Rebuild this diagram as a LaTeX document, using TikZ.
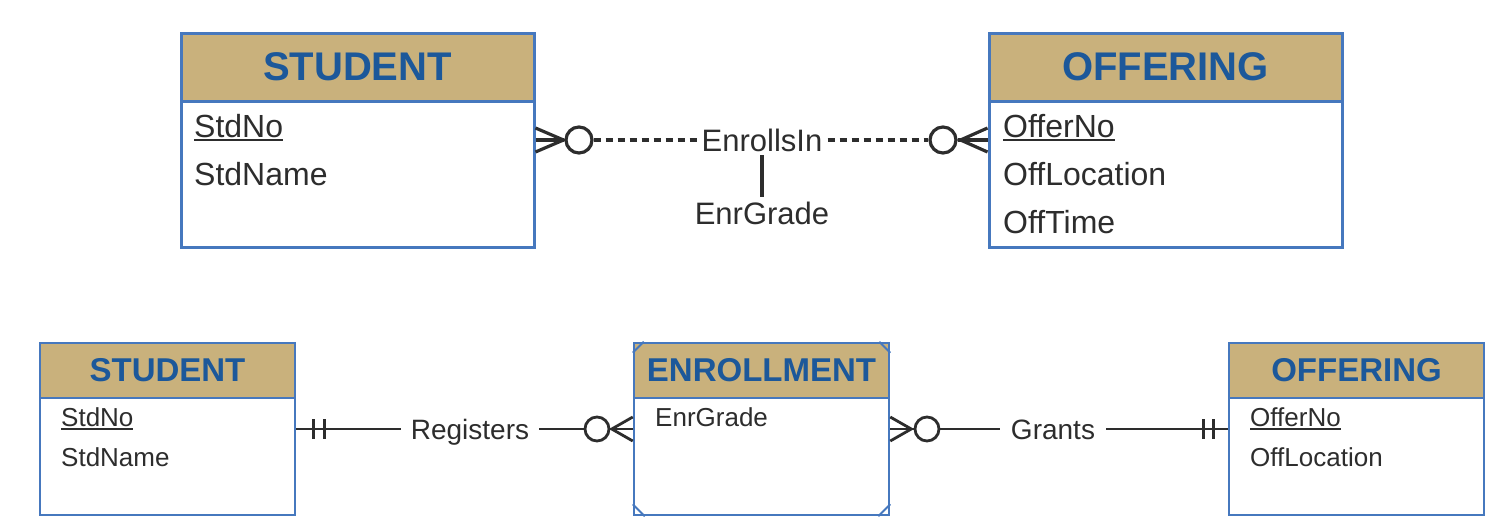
\documentclass[tikz,border=0pt]{standalone}
\usepackage{fontspec}
\setmainfont{Liberation Sans}
\usetikzlibrary{calc}
\definecolor{tanhdr}{RGB}{201,177,124}
\definecolor{bord}{RGB}{70,120,190}
\definecolor{ttl}{RGB}{28,88,154}
\definecolor{txt}{RGB}{45,45,45}
\newcommand{\fsz}[1]{\fontsize{#1}{#1}\selectfont}
\newcommand{\ulx}[1]{\setbox0\hbox{#1}\rlap{\rule[-4pt]{\wd0}{2pt}}\box0}
\begin{document}
\begin{tikzpicture}[x=1pt,y=-1pt,
  ent/.style={draw=bord, line width=3pt, fill=white, inner sep=0pt},
  hdr/.style={draw=bord, line width=3pt, fill=tanhdr, inner sep=0pt, text=ttl},
  entB/.style={draw=bord, line width=2.5pt, fill=white, inner sep=0pt},
  hdrB/.style={draw=bord, line width=2.5pt, fill=tanhdr, inner sep=0pt, text=ttl},
  attrA/.style={font=\fsz{32}, text=txt, inner sep=0pt, anchor=base west},
  attrB/.style={font=\fsz{26}, text=txt, inner sep=0pt, anchor=base west},
  conn/.style={line width=3.2pt, draw=txt},
  connB/.style={line width=2.8pt, draw=txt},
  circA/.style={circle, draw=txt, line width=3.2pt, minimum size=26pt, inner sep=0pt, fill=white},
  circB/.style={circle, draw=txt, line width=2.8pt, minimum size=24pt, inner sep=0pt, fill=white},
  dsh/.style={dash pattern=on 7pt off 5pt}
]
\useasboundingbox (0,0) rectangle (1512,530);

% ---------- top diagram ----------
\node[ent, minimum width=353pt, minimum height=214pt] (stuA) at (357.5,140) {};
\node[hdr, minimum width=353pt, minimum height=68pt, font=\bfseries\fsz{40}] (stuAh) at (357.5,67) {STUDENT};
\node[attrA] (stuA1) at (194,137) {\ulx{StdNo}};
\node[attrA] (stuA2) at (194,185) {StdName};

\node[ent, minimum width=353pt, minimum height=214pt] (offA) at (1165.5,140) {};
\node[hdr, minimum width=353pt, minimum height=68pt, font=\bfseries\fsz{40}] (offAh) at (1165.5,67) {OFFERING};
\node[attrA] (offA1) at (1003,137) {\ulx{OfferNo}};
\node[attrA] (offA2) at (1003,185) {OffLocation};
\node[attrA] (offA3) at (1003,233) {OffTime};

\node[circA] (cA1) at (579,140) {};
\node[circA] (cA2) at (943,140) {};
\node[font=\fsz{31}, text=txt, inner xsep=5pt, inner ysep=4pt, text height=22pt, text depth=0pt] (enr) at (762,140) {EnrollsIn};
\node[font=\fsz{31}, text=txt, inner xsep=0pt, inner ysep=5pt, text height=22pt, text depth=0pt] (grade) at (762,213) {EnrGrade};

\draw[conn] ($(stuA.east)+(0,-12)$) -- ($(stuA.east)+(28,0)$) -- ($(stuA.east)+(0,12)$);
\draw[conn] (stuA.east) -- (cA1.west);
\draw[conn,dsh] (cA1.east) -- (enr.west);
\draw[conn,dsh] (enr.east) -- (cA2.west);
\draw[conn] (cA2.east) -- (offA.west);
\draw[conn] ($(offA.west)+(0,-12)$) -- ($(offA.west)+(-27,0)$) -- ($(offA.west)+(0,12)$);
\draw[conn] (enr.south) -- (grade.north);

% ---------- bottom diagram ----------
\node[entB, minimum width=255pt, minimum height=172pt] (stuB) at (167.5,429) {};
\node[hdrB, minimum width=255pt, minimum height=55pt, font=\bfseries\fsz{33}] (stuBh) at (167.5,370.5) {STUDENT};
\node[attrB] (stuB1) at (61,426) {\ulx{StdNo}};
\node[attrB] (stuB2) at (61,466) {StdName};

\node[entB, minimum width=255pt, minimum height=172pt] (enB) at (761.5,429) {};
\node[hdrB, minimum width=255pt, minimum height=55pt, font=\bfseries\fsz{33}] (enBh) at (761.5,370.5) {ENROLLMENT};
\node[attrB] (enB1) at (655,426) {EnrGrade};
\draw[bord, line width=1.8pt] ($(enB.north west)+(0,11)$) -- ($(enB.north west)+(11,0)$);
\draw[bord, line width=1.8pt] ($(enB.north east)+(0,11)$) -- ($(enB.north east)+(-11,0)$);
\draw[bord, line width=1.8pt] ($(enB.south west)+(0,-12)$) -- ($(enB.south west)+(12,0)$);
\draw[bord, line width=1.8pt] ($(enB.south east)+(0,-12)$) -- ($(enB.south east)+(-12,0)$);

\node[entB, minimum width=255pt, minimum height=172pt] (offB) at (1356.5,429) {};
\node[hdrB, minimum width=255pt, minimum height=55pt, font=\bfseries\fsz{33}] (offBh) at (1356.5,370.5) {OFFERING};
\node[attrB] (offB1) at (1250,426) {\ulx{OfferNo}};
\node[attrB] (offB2) at (1250,466) {OffLocation};

\node[font=\fsz{28}, text=txt, inner xsep=10pt, inner ysep=0pt, text height=20pt, text depth=0pt] (reg) at (470,429) {Registers};
\node[font=\fsz{28}, text=txt, inner xsep=11pt, inner ysep=0pt, text height=20pt, text depth=0pt] (gr) at (1053,429) {Grants};
\node[circB] (cB1) at (597,429) {};
\node[circB] (cB2) at (927,429) {};

\draw[connB] (stuB.east) -- (reg.west);
\draw[connB] ($(stuB.east)+(17,-10)$) -- ($(stuB.east)+(17,10)$);
\draw[connB] ($(stuB.east)+(28,-10)$) -- ($(stuB.east)+(28,10)$);
\draw[connB] (reg.east) -- (cB1.west);
\draw[connB] (cB1.east) -- (enB.west);
\draw[connB] ($(enB.west)+(0,-12)$) -- ($(enB.west)+(-21,0)$) -- ($(enB.west)+(0,12)$);

\draw[connB] (enB.east) -- (cB2.west);
\draw[connB] ($(enB.east)+(0,-12)$) -- ($(enB.east)+(21,0)$) -- ($(enB.east)+(0,12)$);
\draw[connB] (cB2.east) -- (gr.west);
\draw[connB] (gr.east) -- (offB.west);
\draw[connB] ($(offB.west)+(-24,-10)$) -- ($(offB.west)+(-24,10)$);
\draw[connB] ($(offB.west)+(-14,-10)$) -- ($(offB.west)+(-14,10)$);
\end{tikzpicture}
\end{document}
